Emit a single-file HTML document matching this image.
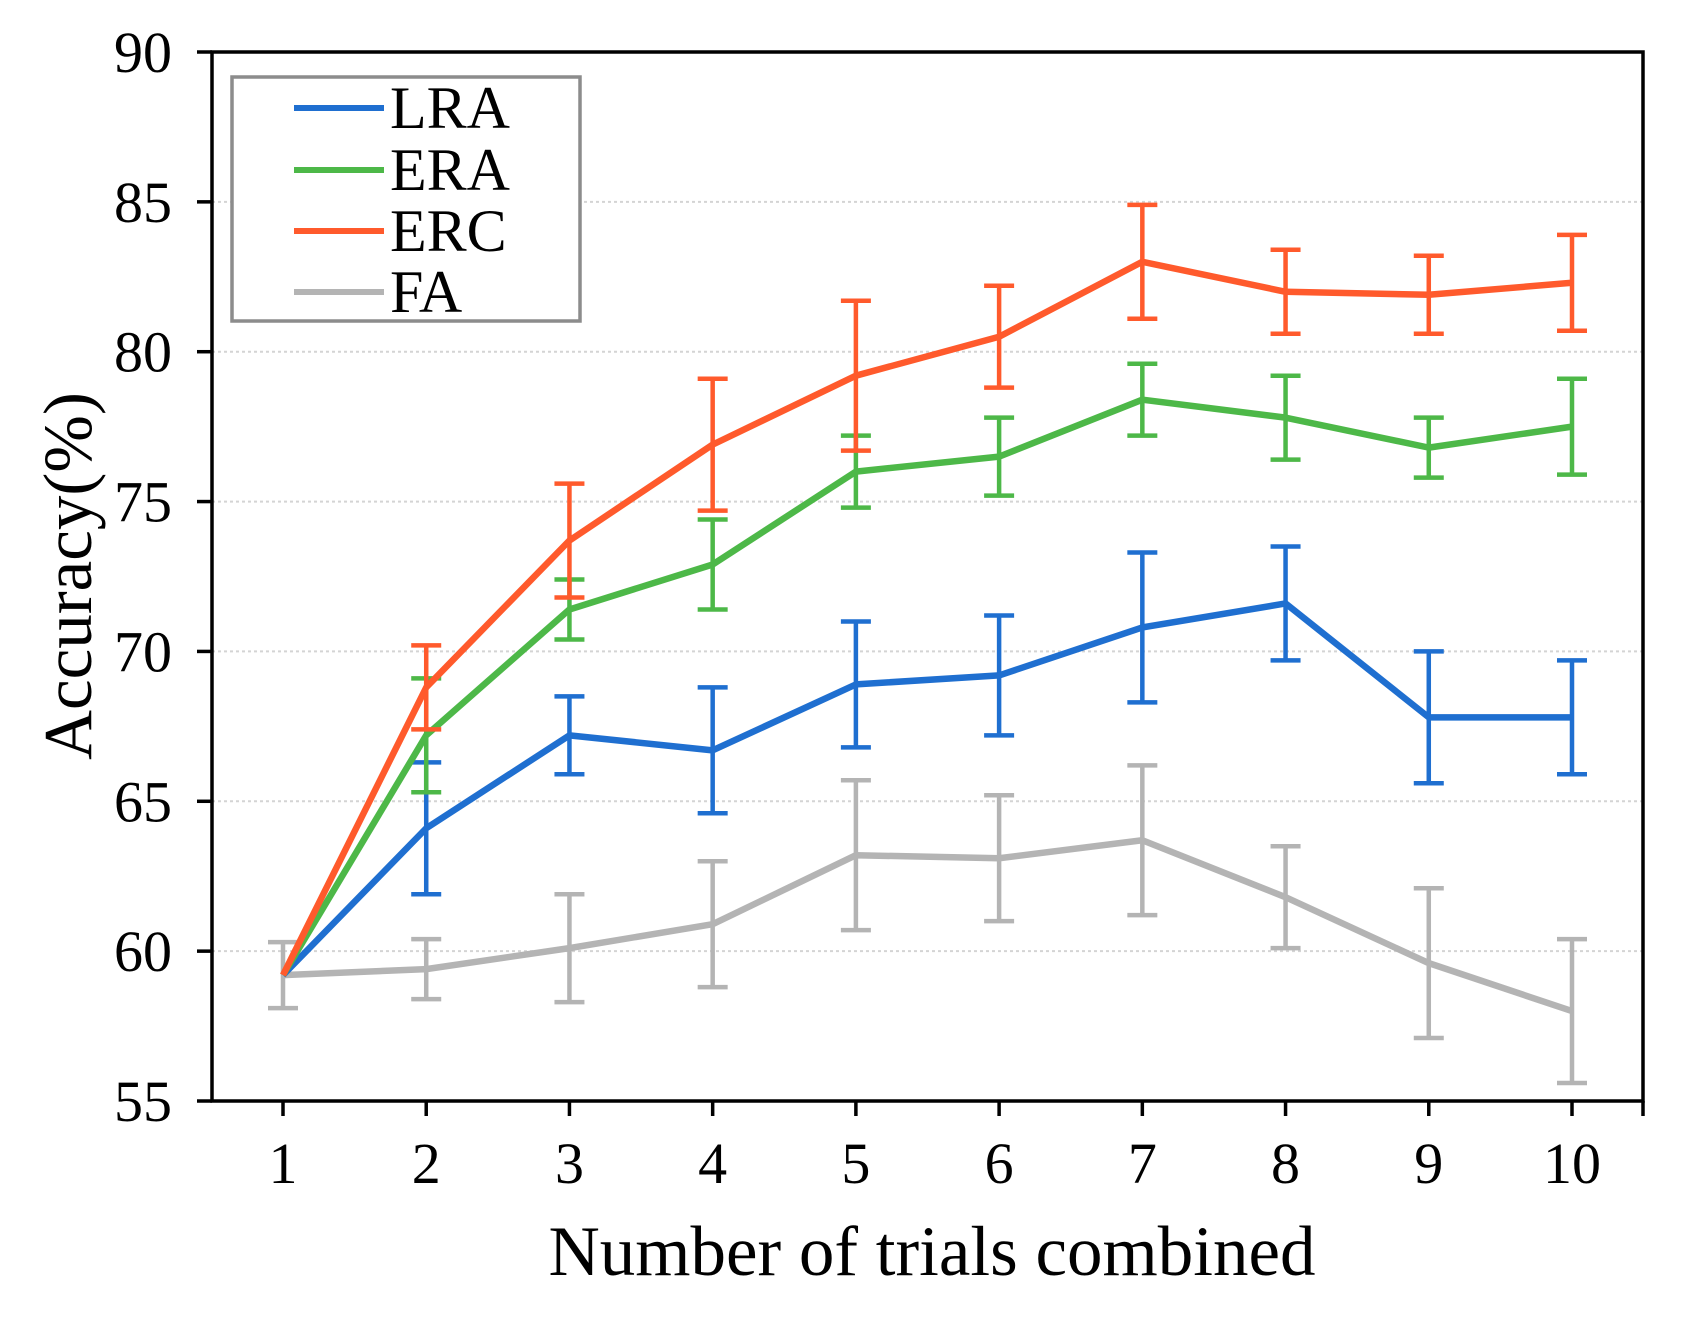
<!DOCTYPE html>
<html><head><meta charset="utf-8"><style>
html,body{margin:0;padding:0;background:#fff;width:1688px;height:1324px;overflow:hidden}
svg text{font-family:"Liberation Serif",serif;fill:#000}
</style></head><body>
<svg id="chart" width="1688" height="1324" viewBox="0 0 1688 1324" xmlns="http://www.w3.org/2000/svg">
<g id="grid"></g>
<g id="series"></g>
<g id="axes"></g>
<g id="legend">
  <rect x="232" y="77" width="348" height="244" fill="#fff" stroke="#8c8c8c" stroke-width="3.5"/>
  <line x1="294" y1="108" x2="384" y2="108" stroke="#1f6fd0" stroke-width="6"/>
  <text x="390" y="128" font-size="60">LRA</text>
  <line x1="294" y1="170" x2="384" y2="170" stroke="#4db848" stroke-width="6"/>
  <text x="390" y="190" font-size="60">ERA</text>
  <line x1="294" y1="231" x2="384" y2="231" stroke="#ff5a2c" stroke-width="6"/>
  <text x="390" y="251" font-size="60">ERC</text>
  <line x1="294" y1="292" x2="384" y2="292" stroke="#b4b4b4" stroke-width="6"/>
  <text x="390" y="312" font-size="60">FA</text>
</g>
<text x="932" y="1275" font-size="71" text-anchor="middle">Number of trials combined</text>
<text transform="translate(91,576) rotate(-90)" font-size="69" text-anchor="middle">Accuracy(%)</text>
</svg>
<script>
const categories = [1,2,3,4,5,6,7,8,9,10];
const yTicks = [55,60,65,70,75,80,85,90];
const lraValues = [59.2,64.1,67.2,66.7,68.9,69.2,70.8,71.6,67.8,67.8];
const lraErrors = [0,2.2,1.3,2.1,2.1,2.0,2.5,1.9,2.2,1.9];
const eraValues = [59.2,67.2,71.4,72.9,76.0,76.5,78.4,77.8,76.8,77.5];
const eraErrors = [0,1.9,1.0,1.5,1.2,1.3,1.2,1.4,1.0,1.6];
const ercValues = [59.2,68.8,73.7,76.9,79.2,80.5,83.0,82.0,81.9,82.3];
const ercErrors = [0,1.4,1.9,2.2,2.5,1.7,1.9,1.4,1.3,1.6];
const faValues = [59.2,59.4,60.1,60.9,63.2,63.1,63.7,61.8,59.6,58.0];
const faErrors = [1.1,1.0,1.8,2.1,2.5,2.1,2.5,1.7,2.5,2.4];

const NS = 'http://www.w3.org/2000/svg';
const L = 212, R = 1643, T = 52, B = 1101;
function xs(c){ return 283 + (c - 1) * (1572 - 283) / 9; }
function ys(v){ return T + (90 - v) * (B - T) / 35; }
function mk(tag, attrs, parent){
  const e = document.createElementNS(NS, tag);
  for (const k in attrs) e.setAttribute(k, attrs[k]);
  parent.appendChild(e);
  return e;
}
const grid = document.getElementById('grid');
const axes = document.getElementById('axes');
const series = document.getElementById('series');

yTicks.forEach(t => {
  if (t > 55 && t < 90) {
    const g = mk('line', {x1:L, x2:R, y1:ys(t), y2:ys(t), stroke:'#d4d4d4', 'stroke-width':2, 'stroke-dasharray':'3 3'}, grid);
    
    
  }
  const tk = mk('line', {x1:L-15, x2:L, y1:ys(t), y2:ys(t), stroke:'#000', 'stroke-width':3.5}, axes);
  
  
  const tx = mk('text', {x:172, y:ys(t)+20, 'font-size':58, 'text-anchor':'end'}, axes);
  tx.textContent = t;
  
  
});
categories.forEach(c => {
  const tk = mk('line', {x1:xs(c), x2:xs(c), y1:B, y2:B+15, stroke:'#000', 'stroke-width':3.5}, axes);
  
  
  const tx = mk('text', {x:xs(c), y:B+82, 'font-size':58, 'text-anchor':'middle'}, axes);
  tx.textContent = c;
  
  
});
const endTick = mk('line', {x1:R, x2:R, y1:B, y2:B+15, stroke:'#000', 'stroke-width':3.5}, axes);


const frame = mk('rect', {x:L, y:T, width:R-L, height:B-T, fill:'none', stroke:'#000', 'stroke-width':3.5}, axes);



function drawSeries(name, vals, errs, color){
  const g = mk('g', {}, series);
  
  
  categories.forEach((c, i) => {
    if (!errs[i]) return;
    const x = xs(c), y1 = ys(vals[i] + errs[i]), y2 = ys(vals[i] - errs[i]);
    const p = mk('path', {d:`M${x},${y1}V${y2}M${x-15},${y1}H${x+15}M${x-15},${y2}H${x+15}`, stroke:color, 'stroke-width':4.5, fill:'none'}, g);
    
    
  });
  const pts = categories.map((c, i) => xs(c) + ',' + ys(vals[i])).join(' ');
  const pl = mk('polyline', {points:pts, fill:'none', stroke:color, 'stroke-width':6.5, 'stroke-linejoin':'round'}, g);
  
  
}
drawSeries('fa', faValues, faErrors, '#b4b4b4');
drawSeries('lra', lraValues, lraErrors, '#1f6fd0');
drawSeries('era', eraValues, eraErrors, '#4db848');
drawSeries('erc', ercValues, ercErrors, '#ff5a2c');
</script>
</body></html>
